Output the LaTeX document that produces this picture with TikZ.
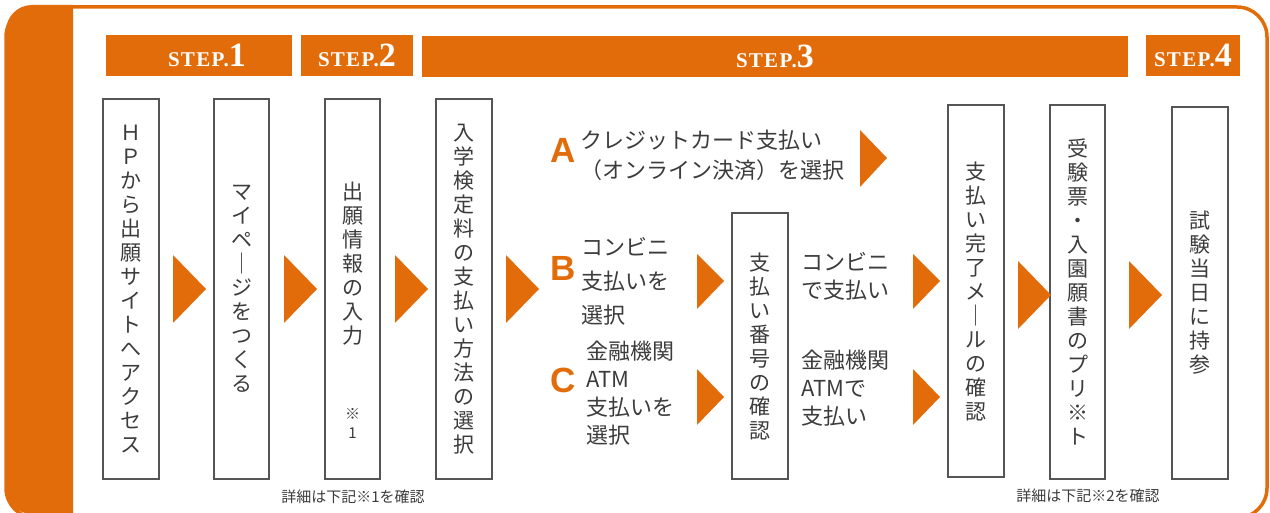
\documentclass[tikz,border=0pt]{standalone}
\usepackage{fontspec}
\setmainfont{Noto Sans CJK JP}
\newfontfamily\stepfont{Liberation Serif}
\newfontfamily\abcfont{Liberation Sans}
\usetikzlibrary{positioning}
\definecolor{steporange}{HTML}{E36C0A}
\definecolor{inkgray}{HTML}{3C3C3C}
\definecolor{boxline}{HTML}{555555}
\newcommand{\steplabel}[1]{{\fontsize{21}{21}\selectfont\addfontfeature{LetterSpace=6}STEP.}{\fontsize{34}{34}\selectfont #1}}

\begin{document}
\begin{tikzpicture}[
    x=1pt, y=-1pt,
    stepbar/.style={
        fill=steporange, text=white,
        inner sep=0pt, minimum height=41pt,
        font=\stepfont\bfseries,
    },
    flowbox/.style={
        draw=boxline, line width=1.2pt, fill=white,
        minimum width=56pt, minimum height=#1,
        inner sep=0pt, align=center,
        text=inkgray, font=\fontsize{21}{24}\selectfont,
    },
    vtext/.style={
        inner sep=0pt, align=center,
        text=inkgray, font=\fontsize{21}{24}\selectfont,
    },
    choice/.style={
        anchor=west, inner sep=0pt, align=left,
        text=inkgray, font=\fontsize{22}{#1}\selectfont,
    },
    letter/.style={
        inner sep=0pt, text=steporange,
        font=\abcfont\bfseries\fontsize{35}{35}\selectfont,
    },
    marker/.style={fill=steporange},
    note/.style={
        inner sep=0pt, text=inkgray,
        font=\fontsize{15}{15}\selectfont,
    },
]

\useasboundingbox (0,0) rectangle (1270,513);
\clip (0,0) rectangle (1270,513);

% frame
\fill[steporange] (73,5) [rounded corners=26pt] -- (6,5) -- (6,514) [sharp corners] -- (73,514) -- cycle;
\draw[steporange, line width=3.5pt, rounded corners=30pt] (6,7) rectangle (1267,518);

% step bars
\node[stepbar, minimum width=186pt] (step1) at (199,55.5) {\hspace*{16pt}\steplabel{1}};
\node[stepbar, minimum width=112pt] (step2) at (357,55.5) {\steplabel{2}};
\node[stepbar, minimum width=706pt] (step3) at (775,56.5) {\steplabel{3}};
\node[stepbar, minimum width=94pt] (step4) at (1193,55.5) {\steplabel{4}};

% boxes
\node[flowbox=380pt] (access) at (131,289) {Ｈ\\Ｐ\\か\\ら\\出\\願\\サ\\イ\\ト\\へ\\ア\\ク\\セ\\ス};
\node[flowbox=380pt, minimum width=55pt] (mypage) at (241.5,289) {マ\\イ\\ペ\\｜\\ジ\\を\\つ\\く\\る};
\node[flowbox=380pt, minimum width=55pt] (entry) at (352.5,289) {};
\node[vtext] (entrytxt) at (352.5,264) {出\\願\\情\\報\\の\\入\\力};
\node[vtext, font=\fontsize{15}{19}\selectfont] (entrynote) at (352.5,423) {※\\1};
\node[flowbox=380pt] (method) at (464,289) {入\\学\\検\\定\\料\\の\\支\\払\\い\\方\\法\\の\\選\\択};
\node[flowbox=266pt] (number) at (760,346) {支\\払\\い\\番\\号\\の\\確\\認};
\node[flowbox=372pt] (mail) at (976,291) {支\\払\\い\\完\\了\\メ\\｜\\ル\\の\\確\\認};
\node[flowbox=374pt, minimum width=55pt] (print) at (1077.5,292) {受\\験\\票\\・\\入\\園\\願\\書\\の\\プ\\リ\\※\\ト};
\node[flowbox=372pt] (exam) at (1200,293) {試\\験\\当\\日\\に\\持\\参};

% payment choices
\node[letter] (lettera) at (563,150) {A};
\node[letter] (letterb) at (563,268) {B};
\node[letter] (letterc) at (563,380) {C};
\node[choice=30pt] (card) at (580,155) {クレジットカード支払い\\（オンライン決済）を選択};
\node[choice=34pt] (store) at (581,281) {コンビニ\\支払いを\\選択};
\node[choice=28pt] (bank) at (586,393) {金融機関\\ATM\\支払いを\\選択};
\node[choice=28pt] (storepay) at (801,276) {コンビニ\\で支払い};
\node[choice=28pt] (bankpay) at (801,388) {金融機関\\ATMで\\支払い};

% arrow markers
\fill[marker] (173,255) -- (206,289) -- (173,323) -- cycle;
\fill[marker] (284,255) -- (317,289) -- (284,323) -- cycle;
\fill[marker] (395,255) -- (428,289) -- (395,323) -- cycle;
\fill[marker] (506,255) -- (539,289) -- (506,323) -- cycle;
\fill[marker] (860,130) -- (887,158) -- (860,187) -- cycle;
\fill[marker] (697,254) -- (724,281) -- (697,309) -- cycle;
\fill[marker] (697,369) -- (724,397) -- (697,425) -- cycle;
\fill[marker] (913,254) -- (940,281) -- (913,309) -- cycle;
\fill[marker] (913,369) -- (940,397) -- (913,425) -- cycle;
\fill[marker] (1018,261) -- (1051,295) -- (1018,329) -- cycle;
\fill[marker] (1129,261) -- (1162,295) -- (1129,329) -- cycle;

% notes
\node[note] (note1) at (353,497) {詳細は下記※1を確認};
\node[note] (note2) at (1088,496) {詳細は下記※2を確認};

\end{tikzpicture}
\end{document}
